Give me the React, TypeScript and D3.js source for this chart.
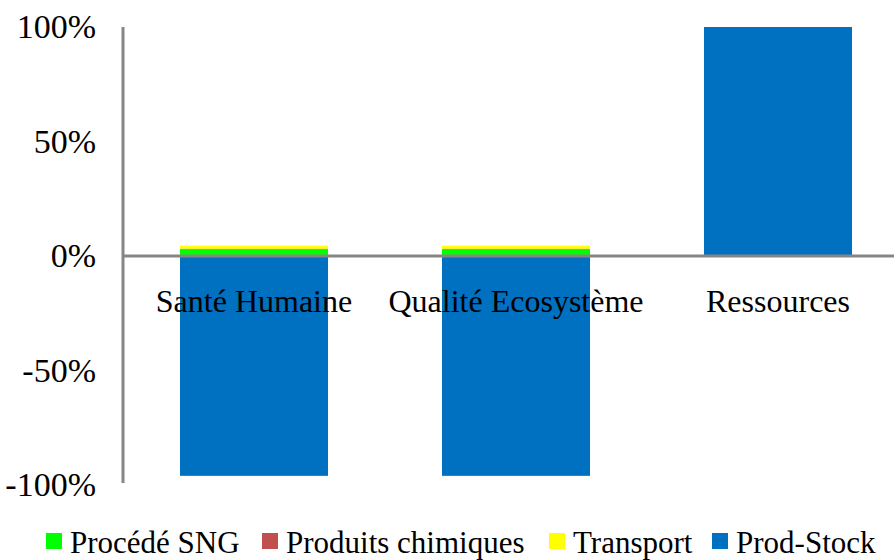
import * as React from 'react'
import * as d3 from 'd3'

const categories = ['Santé Humaine', 'Qualité Ecosystème', 'Ressources']
const seriesNames = ['Procédé SNG', 'Produits chimiques', 'Transport', 'Prod-Stock']
const seriesColors = ['#00ff00', '#c0504d', '#ffff00', '#0070c0']
// values in % per category, same order as seriesNames
const procedeSNG = [3.0, 3.0, 0]
const produitsChimiques = [0.2, 0.2, 0]
const transport = [1.3, 1.3, 0]
const prodStock = [-96, -96, 100]
const yTicks = [-100, -50, 0, 50, 100]

const series = [procedeSNG, produitsChimiques, transport, prodStock]

export default function App() {
    const node = React.useRef<SVGSVGElement | null>(null)

    React.useEffect(() => {
        if (!node.current)
            return
        const svg = d3.select(node.current)
        svg.selectAll('*').remove()

        const left = 123
        const plotRight = 909
        const y = d3.scaleLinear().domain([-100, 100]).range([485, 27])
        const x = d3.scaleBand<string>().domain(categories).range([left, plotRight]).paddingInner(0.435).paddingOuter(0.2175)

        const font = '"Liberation Serif", "Times New Roman", serif'

        // bars, stacked positive up and negative down
        categories.forEach((cat, ci) => {
            let pos = 0
            let neg = 0
            series.forEach((vals, si) => {
                const v = vals[ci]
                if (v === 0) return
                let y0: number, y1: number
                if (v > 0) { y0 = pos; y1 = pos + v; pos = y1 }
                else { y0 = neg; y1 = neg + v; neg = y1 }
                svg.append('rect')
                    .attr('x', x(cat)!)
                    .attr('width', x.bandwidth())
                    .attr('y', y(Math.max(y0, y1)))
                    .attr('height', Math.abs(y(y0) - y(y1)))
                    .attr('fill', seriesColors[si])
            })
        })

        // y axis line
        svg.append('line')
            .attr('x1', left).attr('x2', left)
            .attr('y1', y(100)).attr('y2', y(-100) - 2)
            .attr('stroke', '#868686').attr('stroke-width', 3)

        // zero line
        svg.append('line')
            .attr('x1', left).attr('x2', 894)
            .attr('y1', y(0)).attr('y2', y(0))
            .attr('stroke', '#868686').attr('stroke-width', 3)

        // tick labels
        svg.selectAll('text.ytick')
            .data(yTicks)
            .enter().append('text')
            .attr('class', 'ytick')
            .attr('x', 96)
            .attr('y', d => y(d) + 11)
            .attr('text-anchor', 'end')
            .attr('font-family', font)
            .attr('font-size', 34)
            .attr('fill', '#000')
            .text(d => d + '%')

        // category labels
        svg.selectAll('text.cat')
            .data(categories)
            .enter().append('text')
            .attr('class', 'cat')
            .attr('x', d => x(d)! + x.bandwidth() / 2)
            .attr('y', 312)
            .attr('text-anchor', 'middle')
            .attr('font-family', font)
            .attr('font-size', 32)
            .attr('fill', '#000')
            .text(d => d)

        // legend
        const legendX = [46, 262, 549, 712]
        seriesNames.forEach((name, i) => {
            svg.append('rect')
                .attr('x', legendX[i]).attr('y', 533)
                .attr('width', 16).attr('height', 16)
                .attr('fill', seriesColors[i])
            svg.append('text')
                .attr('x', legendX[i] + 24).attr('y', 553)
                .attr('font-family', font)
                .attr('font-size', 31)
                .attr('fill', '#000')
                .text(name)
        })
    }, [])

    return (
        <svg
            ref={node}
            width={894}
            height={560}
            style={{ position: 'absolute', left: 0, top: 0, background: '#fff' }} />
    )
}
